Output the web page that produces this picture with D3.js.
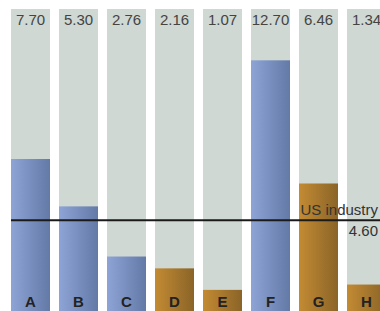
<!DOCTYPE html>
<html>
<head>
<meta charset="utf-8">
<script src="https://cdn.jsdelivr.net/npm/d3@7"></script>
<style>
  body { margin: 0; background: #fff; }
  svg { display: block; font-family: "Liberation Sans", Arial, sans-serif; }
</style>
</head>
<body>
<div id="chart"></div>
<script>
var categories = ["A", "B", "C", "D", "E", "F", "G", "H"],
    values     = [7.70, 5.30, 2.76, 2.16, 1.07, 12.70, 6.46, 1.34],
    groups     = ["blue", "blue", "blue", "orange", "orange", "blue", "orange", "orange"],
    benchmark  = 4.60,
    benchLabel = "US industry",
    yMax       = 15.3

var width = 380, height = 311

var svg = d3.select("#chart").append("svg")
  .attr("width", width)
  .attr("height", height)

var defs = svg.append("defs")

function addGrad(id, c1, c2) { //{{{
  var g = defs.append("linearGradient").attr("id", id)
    .attr("x1", "0%").attr("x2", "100%").attr("y1", "0%").attr("y2", "0%")
  g.append("stop").attr("offset", "0%").attr("stop-color", c1)
  g.append("stop").attr("offset", "100%").attr("stop-color", c2)
} //}}}

addGrad("grad-blue", "#8ea4d6", "#6379a6")
addGrad("grad-orange", "#c38b33", "#8a6428")

// step 48px, bar 39px, first bar at x=11
var x = d3.scaleBand()
  .domain(categories)
  .range([11, 386])
  .paddingInner(9 / 48)
  .paddingOuter(0)

var y = d3.scaleLinear()
  .domain([0, yMax])
  .range([height, 9])

var bars = svg.append("g").selectAll("g")
  .data(categories.map((c, i) => ({ cat: c, val: values[i], grp: groups[i] })))
  .join("g")

bars.append("rect")
  .attr("x", d => x(d.cat))
  .attr("width", x.bandwidth())
  .attr("y", y(yMax))
  .attr("height", y(0) - y(yMax))
  .attr("fill", "#cfd8d3")

bars.append("rect")
  .attr("x", d => x(d.cat))
  .attr("width", x.bandwidth())
  .attr("y", d => y(d.val))
  .attr("height", d => y(0) - y(d.val))
  .attr("fill", d => "url(#grad-" + d.grp + ")")

bars.append("text")
  .attr("x", d => x(d.cat) + x.bandwidth() / 2)
  .attr("y", 25)
  .attr("text-anchor", "middle")
  .attr("font-size", 15)
  .attr("fill", "#444")
  .text(d => d.val.toFixed(2))

bars.append("text")
  .attr("x", d => x(d.cat) + x.bandwidth() / 2)
  .attr("y", 307)
  .attr("text-anchor", "middle")
  .attr("font-size", 15)
  .attr("font-weight", "bold")
  .attr("fill", "#222")
  .text(d => d.cat)

svg.append("line")
  .attr("x1", x(categories[0]))
  .attr("x2", width)
  .attr("y1", y(benchmark))
  .attr("y2", y(benchmark))
  .attr("stroke", "#1a1a1a")
  .attr("stroke-width", 2)

svg.append("text")
  .attr("x", 378)
  .attr("y", y(benchmark) - 5)
  .attr("text-anchor", "end")
  .attr("font-size", 15)
  .attr("fill", "#333")
  .text(benchLabel)

svg.append("text")
  .attr("x", 378)
  .attr("y", y(benchmark) + 16)
  .attr("text-anchor", "end")
  .attr("font-size", 15)
  .attr("fill", "#333")
  .text(benchmark.toFixed(2))
</script>
</body>
</html>
